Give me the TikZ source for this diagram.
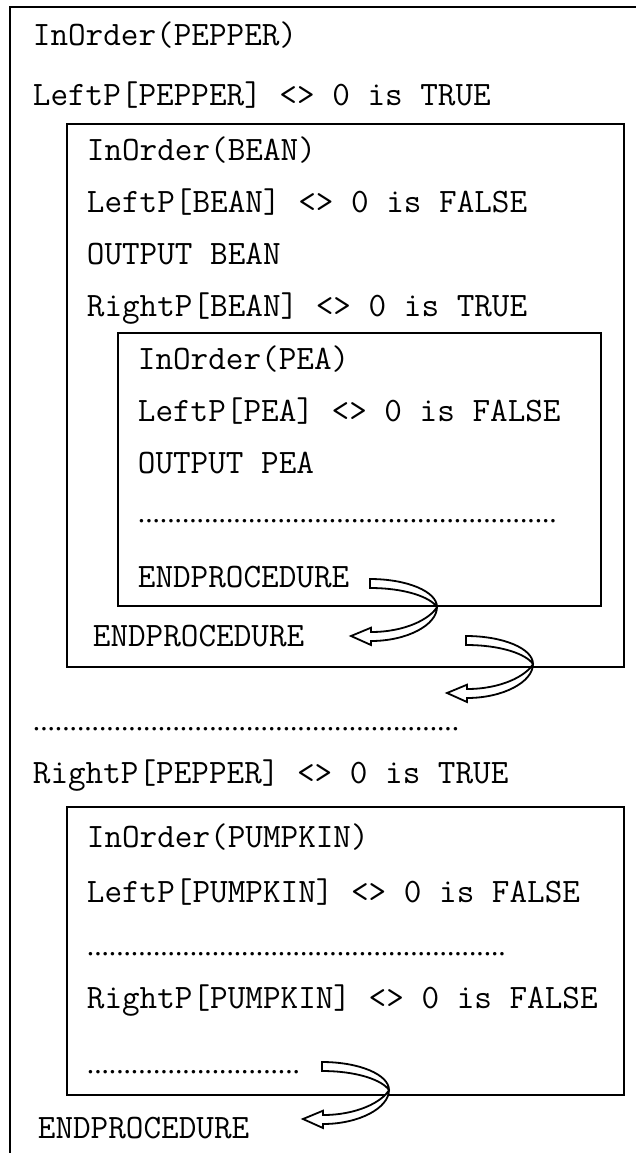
\documentclass[tikz,border=0pt]{standalone}
\usepackage{fontspec}
\usepackage{tikz}
\newfontfamily\dotserif{Liberation Serif}
\newcommand\codefont{\fontsize{17.1}{20}\selectfont\ttfamily}
\newcommand\dotfont{\fontsize{14.7}{16}\selectfont\dotserif}
\newcommand\dotrow[1]{\foreach \k in {1,...,#1}{.}}

\begin{document}
\begin{tikzpicture}[x=0.5pt, y=-0.5pt, line width=0.9pt,
    code/.style={anchor=base west, inner sep=0pt, font=\codefont},
    gap/.style={anchor=base west, inner sep=0pt, font=\dotfont},
    retarrow/.pic={
      \draw[fill=white, line join=miter]
        (0,0) .. controls (37,0) and (67,12.5) .. (67,28)
        .. controls (67,46) and (37,62) .. (1,62) -- (1,66) -- (-19,57)
        -- (1,48.7) -- (1,53) .. controls (35,53) and (60,40) .. (67,28)
        .. controls (60,18) and (35,9) .. (0,9) -- cycle;
    }]
    \useasboundingbox (0,0) rectangle (636,1153);
    % outer frame, open on the right and at the bottom
    \draw (636,7) -- (10,7) -- (10,1153);
    \node [code] (pepperin) at (32,45) {InOrder(PEPPER)};
    \node [code] (pepperleft) at (32,105) {LeftP[PEPPER] <> 0 is TRUE};
    % BEAN
    \draw (67,124) rectangle (624,667);
    \node [code] (beanin) at (86,160) {InOrder(BEAN)};
    \node [code] (beanleft) at (86,212) {LeftP[BEAN] <> 0 is FALSE};
    \node [code] (beanout) at (86,264) {OUTPUT BEAN};
    \node [code] (beanright) at (86,316) {RightP[BEAN] <> 0 is TRUE};
    % PEA
    \draw (118,333) rectangle (601,606);
    \node [code] (peain) at (137,369) {InOrder(PEA)};
    \node [code] (pealeft) at (137,421) {LeftP[PEA] <> 0 is FALSE};
    \node [code] (peaout) at (137,473) {OUTPUT PEA};
    \node [gap] (peadots) at (137,522) {\dotrow{57}};
    \node [code] (peaend) at (137,587) {ENDPROCEDURE};
    \node [code] (beanend) at (92,646) {ENDPROCEDURE};
    \node [gap] (pepperdots) at (32,730) {\dotrow{58}};
    \node [code] (pepperright) at (32,783) {RightP[PEPPER] <> 0 is TRUE};
    % PUMPKIN
    \draw (67,807) rectangle (624,1095);
    \node [code] (pumpkinin) at (86,847) {InOrder(PUMPKIN)};
    \node [code] (pumpkinleft) at (86,902) {LeftP[PUMPKIN] <> 0 is FALSE};
    \node [gap] (pumpkindots) at (86,955) {\dotrow{57}};
    \node [code] (pumpkinright) at (86,1008) {RightP[PUMPKIN] <> 0 is FALSE};
    \node [gap] (pumpkinrest) at (86,1073) {\dotrow{29}};
    \node [code] (pepperend) at (37,1138) {ENDPROCEDURE};
    % return arrows
    \coordinate (peaback) at (370,579);
    \coordinate (beanback) at (466,636);
    \coordinate (pumpkinback) at (322,1062);
    \pic at (peaback) {retarrow};
    \pic at (beanback) {retarrow};
    \pic at (pumpkinback) {retarrow};
\end{tikzpicture}
\end{document}
